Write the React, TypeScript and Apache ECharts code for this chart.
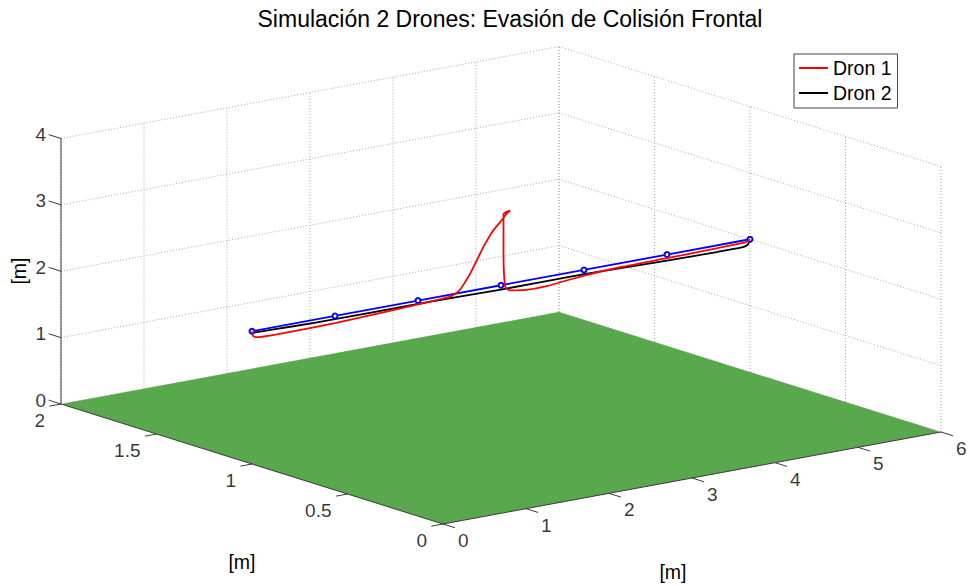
import React, { useEffect, useRef } from "react";
import * as echarts from "echarts";

// ---------- texts ----------
const TITLE = "Simulación 2 Drones: Evasión de Colisión Frontal";
const AXIS_NAME = "[m]";
const SERIES_1 = "Dron 1";
const SERIES_2 = "Dron 2";

// ---------- axis ticks ----------
const xTicks = [0, 1, 2, 3, 4, 5, 6];
const yTicks = [0, 0.5, 1, 1.5, 2];
const zTicks = [0, 1, 2, 3, 4];
const xTickLabels = ["0", "1", "2", "3", "4", "5", "6"];
const yTickLabels = ["0", "0.5", "1", "1.5", "2"];
const zTickLabels = ["0", "1", "2", "3", "4"];
const X_RANGE = [0, 6];
const Y_RANGE = [0, 2];
const Z_RANGE = [0, 4];

// ---------- reference path (blue, waypoints) ----------
const refX = [0, 1, 2, 3, 4, 5, 6];
const refY = [1, 1, 1, 1, 1, 1, 1];
const refZ = [2, 2, 2, 2, 2, 2, 2];

// ---------- Dron 1 (red) ----------
const dron1X = [0, 0.01, 0.05, 0.3, 1.0, 1.7, 2.3, 2.39, 2.5, 2.63, 2.71, 2.79, 2.91, 3.01, 3.07, 3.11, 3.03, 3.03, 3.05, 3.1, 3.3, 3.55, 4.0, 4.45, 5.0, 5.5, 5.95, 6.0];
const dron1Y = [1, 1, 1, 1, 1, 1, 1, 1, 1, 1, 1, 1, 1, 1, 1, 1, 1, 1, 1, 1, 1, 1, 1, 1, 1, 1, 1, 1];
const dron1Z = [2.0, 1.93, 1.9, 1.885, 1.893, 1.926, 1.962, 1.97, 2.04, 2.265, 2.447, 2.63, 2.852, 2.98, 3.068, 3.098, 3.066, 2.5, 1.967, 1.9, 1.86, 1.86, 1.915, 1.94, 1.945, 1.955, 1.967, 2.0];

// ---------- Dron 2 (black) ----------
const dron2X = [0, 0.5, 1, 2, 3, 4, 5, 5.6, 5.9, 5.97, 6.0];
const dron2Y = [1, 1, 1, 1, 1, 1, 1, 1, 1, 1, 1];
const dron2Z = [1.975, 1.96, 1.95, 1.95, 1.935, 1.935, 1.91, 1.9, 1.9, 1.92, 1.985];

// ---------- orthographic 3D view (MATLAB-like) ----------
const ORIGIN = [443, 524];
const EX = [83, -15.333];
const EY = [-191, -60];
const EZ = [0, -66.375];
function proj(x: number, y: number, z: number): [number, number] {
  return [
    ORIGIN[0] + EX[0] * x + EY[0] * y + EZ[0] * z,
    ORIGIN[1] + EX[1] * x + EY[1] * y + EZ[1] * z,
  ];
}

const FONT = "'Liberation Sans', Arial, Helvetica, sans-serif";
const W = 970;
const H = 586;

type P3 = [number, number, number];

function segSeries(segs: [P3, P3][], color: string, width: number, dash: number[] | null) {
  const data = segs.map(([a, b]) => {
    const p = proj(a[0], a[1], a[2]);
    const q = proj(b[0], b[1], b[2]);
    return [p[0], p[1], q[0], q[1]];
  });
  return {
    type: "custom",
    coordinateSystem: "cartesian2d",
    silent: true,
    data,
    encode: { x: [0, 2], y: [1, 3] },
    renderItem: (_params: any, api: any) => {
      const p1 = api.coord([api.value(0), api.value(1)]);
      const p2 = api.coord([api.value(2), api.value(3)]);
      return {
        type: "line",
        shape: { x1: p1[0], y1: p1[1], x2: p2[0], y2: p2[1] },
        style: { stroke: color, lineWidth: width, lineDash: dash || undefined },
      };
    },
  };
}

function pathData(xs: number[], ys: number[], zs: number[]) {
  return xs.map((x, i) => proj(x, ys[i], zs[i]));
}

function labelSeries(pts: [number, number][], labels: string[], align: string, offset: [number, number]) {
  return {
    type: "scatter",
    silent: true,
    symbolSize: 0,
    data: pts.map((p, i) => ({ value: p, name: labels[i] })),
    label: {
      show: true,
      position: "inside",
      formatter: (p: any) => p.name,
      align,
      verticalAlign: "middle",
      offset,
      color: "#000",
      fontSize: 19,
      lineHeight: 15,
      fontFamily: FONT,
    },
    z: 10,
  };
}

export default function App() {
  const ref = useRef<HTMLDivElement>(null);
  useEffect(() => {
    if (!ref.current) return;
    const chart = echarts.init(ref.current, undefined, { renderer: "svg" });

    const [x0, x1] = X_RANGE;
    const [y0, y1] = Y_RANGE;
    const [z0, z1] = Z_RANGE;

    // dotted grid on back walls
    const grid: [P3, P3][] = [];
    xTicks.forEach((x) => grid.push([[x, y1, z0], [x, y1, z1]]));
    zTicks.forEach((z) => grid.push([[x0, y1, z], [x1, y1, z]]));
    yTicks.forEach((y) => grid.push([[x1, y, z0], [x1, y, z1]]));
    zTicks.forEach((z) => grid.push([[x1, y0, z], [x1, y1, z]]));

    // axis lines + ticks
    const axes: [P3, P3][] = [
      [[x0, y1, z0], [x0, y1, z1]],
      [[x0, y0, z0], [x0, y1, z0]],
      [[x0, y0, z0], [x1, y0, z0]],
    ];
    const ticks: [P3, P3][] = [];
    zTicks.forEach((z) => ticks.push([[x0, y1, z], [x0, y1 + 0.065, z]]));
    yTicks.forEach((y) => ticks.push([[x0, y, z0], [x0 - 0.14, y, z0]]));
    xTicks.forEach((x) => ticks.push([[x, y0, z0], [x, y0 - 0.063, z0]]));

    const floor = [proj(x0, y0, z0), proj(x1, y0, z0), proj(x1, y1, z0), proj(x0, y1, z0)];

    const option: any = {
      animation: false,
      backgroundColor: "#fff",
      grid: { left: 0, right: 0, top: 0, bottom: 0, containLabel: false },
      xAxis: { type: "value", min: 0, max: W, show: false },
      yAxis: { type: "value", min: 0, max: H, inverse: true, show: false },
      legend: {
        show: true,
        orient: "vertical",
        left: 794,
        top: 54,
        data: [
          { name: SERIES_1, icon: "rect" },
          { name: SERIES_2, icon: "rect" },
        ],
        itemWidth: 29,
        itemHeight: 2,
        itemGap: 5,
        padding: [4, 6, 5, 5],
        borderColor: "#444",
        borderWidth: 1,
        borderRadius: 0,
        backgroundColor: "#fff",
        selectedMode: false,
        textStyle: { fontSize: 19.5, fontFamily: FONT, color: "#000", lineHeight: 20, padding: [0, 0, 0, 0] },
      },
      graphic: [
        {
          type: "text",
          x: 510,
          y: 19,
          style: { text: TITLE, fontSize: 23, fontFamily: FONT, fill: "#000", textAlign: "center", textVerticalAlign: "middle" },
        },
        {
          type: "text",
          x: 242,
          y: 562,
          style: { text: AXIS_NAME, fontSize: 19.5, fontFamily: FONT, fill: "#000", textAlign: "center", textVerticalAlign: "middle" },
        },
        {
          type: "text",
          x: 673,
          y: 572,
          style: { text: AXIS_NAME, fontSize: 19.5, fontFamily: FONT, fill: "#000", textAlign: "center", textVerticalAlign: "middle" },
        },
        {
          type: "text",
          x: 19,
          y: 271,
          rotation: Math.PI / 2,
          style: { text: AXIS_NAME, fontSize: 19.5, fontFamily: FONT, fill: "#000", textAlign: "center", textVerticalAlign: "middle" },
        },
      ],
      series: [
        segSeries(grid, "#a8a8a8", 1, [1, 2]),
        {
          type: "custom",
          coordinateSystem: "cartesian2d",
          silent: true,
          data: [floor.flat()],
          encode: { x: [0, 2, 4, 6], y: [1, 3, 5, 7] },
          renderItem: (_p: any, api: any) => {
            const pts = [0, 1, 2, 3].map((i) => api.coord([api.value(2 * i), api.value(2 * i + 1)]));
            return { type: "polygon", shape: { points: pts }, style: { fill: "#5aa84e", stroke: "none" } };
          },
        },
        segSeries(axes, "#3a3a3a", 1, null),
        segSeries(ticks, "#3a3a3a", 1, null),
        {
          name: SERIES_2,
          type: "line",
          data: pathData(dron2X, dron2Y, dron2Z),
          symbol: "none",
          showSymbol: false,
          smooth: 0.2,
          color: "#000",
          lineStyle: { color: "#000", width: 1.8 },
          z: 3,
        },
        {
          name: "Ruta",
          type: "line",
          data: pathData(refX, refY, refZ),
          symbol: "emptyCircle",
          symbolSize: 5,
          color: "#0000ff",
          itemStyle: { color: "#0000ff", borderColor: "#0000ff", borderWidth: 1.2 },
          lineStyle: { color: "#0000ff", width: 1.8 },
          z: 4,
        },
        {
          name: SERIES_1,
          type: "line",
          data: pathData(dron1X, dron1Y, dron1Z),
          symbol: "none",
          showSymbol: false,
          smooth: 0.2,
          color: "#ff0000",
          lineStyle: { color: "#ff0000", width: 1.8 },
          z: 5,
        },
        labelSeries(zTicks.map((z) => proj(x0, y1, z)), zTickLabels, "right", [-15, -4]),
        labelSeries(yTicks.map((y) => proj(x0, y, z0)), yTickLabels, "right", [-16, 16.5]),
        labelSeries(xTicks.map((x) => proj(x, y0, z0)), xTickLabels, "left", [15, 16.5]),
      ],
    };
    chart.setOption(option);
    return () => chart.dispose();
  }, []);
  return <div ref={ref} style={{ position: "absolute", left: 0, top: 0, width: W, height: H }} />;
}
